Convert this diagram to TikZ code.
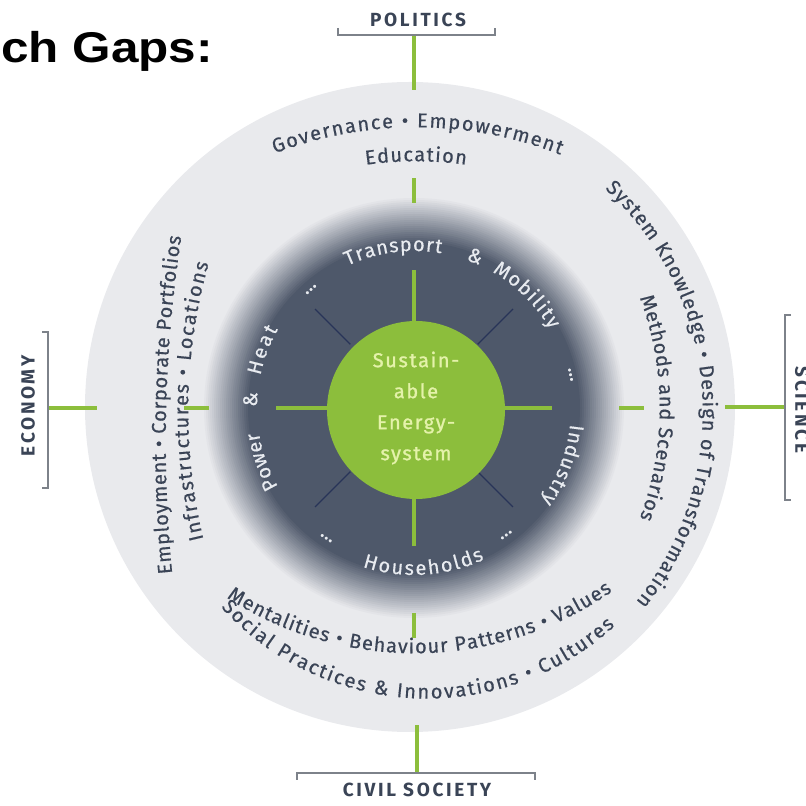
\documentclass[tikz,border=0pt]{standalone}
\usepackage{fontspec}
\setmainfont{Fira Sans}
\newfontfamily\titlefont{Liberation Sans}
\newfontfamily\catfont[LetterSpace=14]{Fira Sans}
\newfontfamily\ringfont[FakeBold=0.5]{Fira Sans}
\newfontfamily\innerfont[FakeBold=0.4]{Fira Sans}
\newfontfamily\corefont[LetterSpace=8,FakeBold=1.2]{Fira Sans}
\usetikzlibrary{calc,positioning,decorations.text}

\definecolor{leafgreen}{RGB}{140,190,60}
\definecolor{paleleaf}{RGB}{228,242,170}
\definecolor{slate}{RGB}{58,68,86}
\definecolor{ringgray}{RGB}{233,234,237}
\definecolor{coreslate}{RGB}{78,88,106}
\definecolor{spokenavy}{RGB}{40,52,88}
\definecolor{bracketgray}{RGB}{125,130,138}
\definecolor{innerwhite}{RGB}{232,235,240}

\newcommand\ringtextfont{\ringfont\fontsize{20}{20}\selectfont}
\newcommand\innertextfont{\innerfont\fontsize{20}{20}\selectfont}

\begin{document}
\begin{tikzpicture}[x=1pt,y=1pt,
  spoke/.style={draw=leafgreen, line width=4pt},
  ray/.style={draw=spokenavy, line width=1.3pt},
  brace/.style={draw=bracketgray, line width=1.4pt},
  catlabel/.style={text=slate, font=\catfont\bfseries\fontsize{19}{19}\selectfont},
  ringtext/.style={decorate, decoration={text along path, text align=fit to path, raise=-5.3pt, text color=slate, text={#1}}},
  innertext/.style={decorate, decoration={text along path, text align=fit to path, raise=-5pt, text color=innerwhite, text={#1}}},
  innermark/.style={decorate, decoration={text along path, text align=center, raise=-5pt, text color=innerwhite, text={#1}}},
  dots/.style={text=innerwhite, font=\innertextfont}]
\useasboundingbox (0,0) rectangle (806,806);

% title
\node[anchor=base west, inner sep=0pt, font=\titlefont\bfseries\fontsize{43}{43}\selectfont, xscale=1.15] (title) at (1,743) {ch Gaps:};

% rings
\fill[ringgray] (410,399) circle[radius=325pt];
\foreach \r in {212,210,...,166} {
  \pgfmathtruncatemacro\p{(212-\r)*100/46}
  \fill[coreslate!\p!ringgray] (414,398) circle[radius=\r pt];
}

\begin{scope}[shift={(414,398)}]
\foreach \a in {45,135,225,315}
  \draw[ray] (\a:90pt) -- (\a:140pt);
\foreach \a in {0,90,180,270} {
  \draw[spoke] (\a:86pt) -- (\a:138pt);
  \draw[spoke] (\a:205pt) -- (\a:230pt);
}
\end{scope}
\fill[leafgreen] (416,396) circle[radius=89pt];
\node[align=center, text=paleleaf, font=\corefont\fontsize{20}{31}\selectfont] (core) at (416,398) {Sustain-\\able\\Energy-\\system};

% inner ring labels
\begin{scope}[shift={(414,398)}]
\path[innertext={|\innertextfont|Transport}] (115:162pt) arc[start angle=115, end angle=80, radius=162pt];
\path[innermark={|\innertextfont|{\&}}] (98:162pt) arc[start angle=98, end angle=38, radius=162pt];
\path[innertext={|\innertextfont|Mobility}] (60:162pt) arc[start angle=60, end angle=30, radius=162pt];
\path[innertext={|\innertextfont|Industry}] (-6:162pt) arc[start angle=-6, end angle=-36, radius=162pt];
\path[innertext={|\innertextfont|Households}] (252:162pt) arc[start angle=252, end angle=295, radius=162pt];
\path[innertext={|\innertextfont|Power}] (210:162pt) arc[start angle=210, end angle=189, radius=162pt];
\path[innermark={|\innertextfont|{\&}}] (207:162pt) arc[start angle=207, end angle=147, radius=162pt];
\path[innertext={|\innertextfont|Heat}] (168:162pt) arc[start angle=168, end angle=150, radius=162pt];
\node[dots, rotate=41] (dotsnw) at (131:157pt) {...};
\node[dots, rotate=-78] (dotse) at (12:160pt) {...};
\node[dots, rotate=146] (dotssw) at (236:157pt) {...};
\node[dots, rotate=216] (dotsse) at (306:157pt) {...};
\end{scope}

% outer ring labels
\path[ringtext={|\ringtextfont|Governance • Empowerment}] ([shift={(111:399pt)}]416,285) arc[start angle=111, end angle=68.5, radius=399pt];
\path[ringtext={|\ringtextfont|Education}] ([shift={(98:365pt)}]416,285) arc[start angle=98, end angle=82, radius=365pt];
\path[ringtext={|\ringtextfont|System Knowledge • Design of Transformation}] ([shift={(47.3:309pt)}]399,394) arc[start angle=47.3, end angle=-38.6, radius=309pt];
\path[ringtext={|\ringtextfont|Methods and Scenarios}] ([shift={(20.5:320pt)}]345,398) arc[start angle=20.5, end angle=-20.5, radius=320pt];
\path[ringtext={|\ringtextfont|Employment • Corporate Portfolios}] ([shift={(185.6:1358.6pt)}]1519,364.5) arc[start angle=185.6, end angle=171.3, radius=1358.6pt];
\path[ringtext={|\ringtextfont|Infrastructures • Locations}] ([shift={(193.6:548.6pt)}]731.5,394.5) arc[start angle=193.6, end angle=164.2, radius=548.6pt];
\path[ringtext={|\ringtextfont|Mentalities • Behaviour Patterns • Values}] ([shift={(237:340.6pt)}]414.9,498.6) arc[start angle=237, end angle=304.8, radius=340.6pt];
\path[ringtext={|\ringtextfont|Social Practices {\&} Innovations • Cultures}] ([shift={(222.2:273.3pt)}]427.3,386) arc[start angle=222.2, end angle=312.4, radius=273.3pt];

% sectors outside
\coordinate (politics) at (414,771);
\coordinate (economy) at (48,398);
\coordinate (science) at (785,399);
\coordinate (civil) at (417,33);
\draw[spoke] (politics) -- (414,716);
\draw[spoke] (economy) -- (97,398);
\draw[spoke] (science) -- (725,399);
\draw[spoke] (civil) -- (417,81);
\draw[brace] (338,778) -- (338,771) -- (495,771) -- (495,778);
\draw[brace] (42,474) -- (48,474) -- (48,318) -- (42,318);
\draw[brace] (791,491) -- (785,491) -- (785,306) -- (791,306);
\draw[brace] (297,26) -- (297,33) -- (535,33) -- (535,26);
\node[catlabel] (politicslabel) at (418,786) {POLITICS};
\node[catlabel, rotate=90] (economylabel) at (28,400) {ECONOMY};
\node[catlabel, rotate=-90] (sciencelabel) at (802,396) {SCIENCE};
\node[catlabel] (civillabel) at (417,16) {CIVIL SOCIETY};
\end{tikzpicture}
\end{document}
